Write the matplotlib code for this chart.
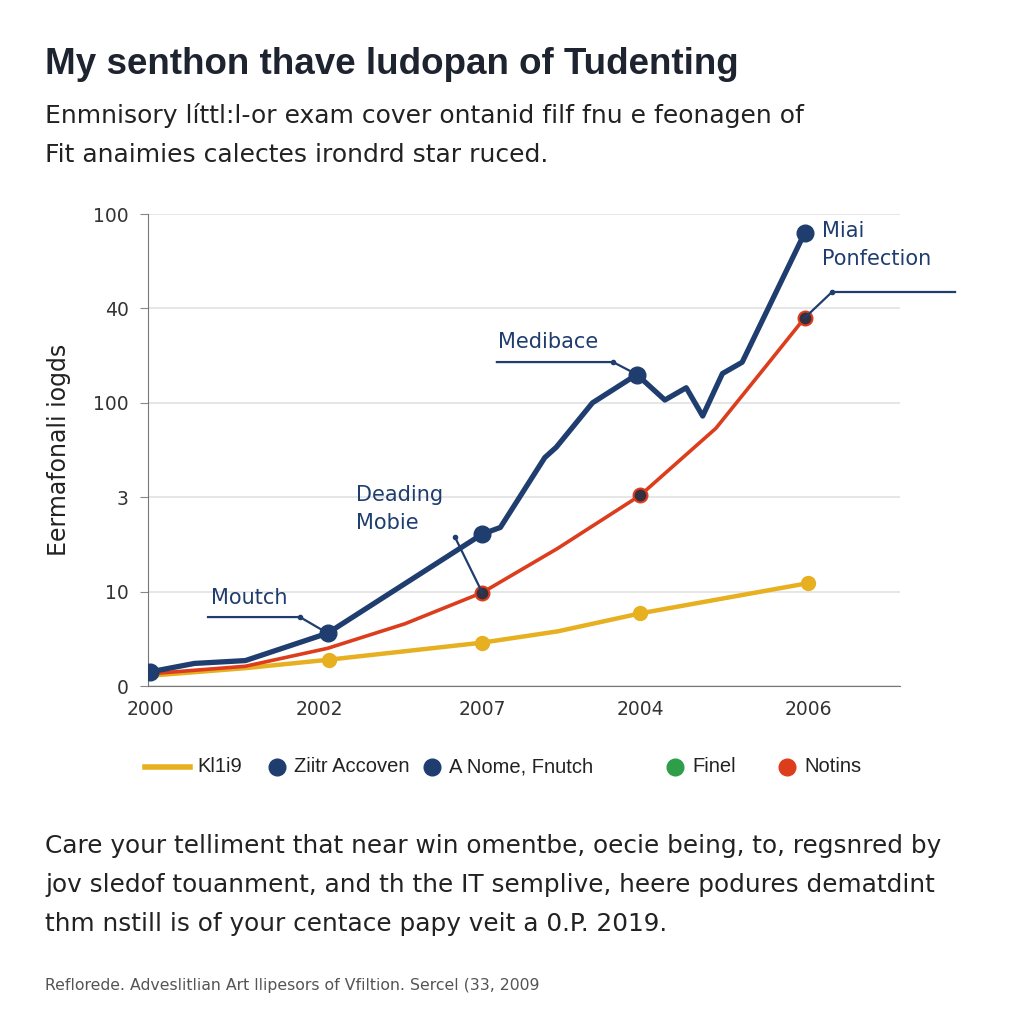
import matplotlib.pyplot as plt
from matplotlib.lines import Line2D

# data
navy_x = [0.0, 0.27, 0.58, 1.08, 2.02, 2.13, 2.40, 2.47, 2.69, 2.96, 3.13, 3.26, 3.36, 3.48, 3.60, 3.98]
navy_y = [0.15, 0.24, 0.27, 0.56, 1.61, 1.68, 2.42, 2.53, 3.00, 3.30, 3.03, 3.16, 2.86, 3.31, 3.43, 4.80]
navy_marks = [0, 3, 4, 9, 15]

red_x = [0.0, 0.58, 1.08, 1.55, 2.02, 2.48, 2.98, 3.44, 3.75, 3.98]
red_y = [0.13, 0.21, 0.40, 0.66, 0.99, 1.46, 2.02, 2.73, 3.40, 3.90]
red_marks = [4, 6, 9]

yellow_x = [0.0, 0.58, 1.09, 2.02, 2.48, 2.98, 4.0]
yellow_y = [0.11, 0.19, 0.28, 0.46, 0.58, 0.77, 1.09]
yellow_marks = [2, 3, 5, 6]

ytick_labels = ["0", "10", "3", "100", "40", "100"]
xtick_pos = [0, 1.03, 2.02, 2.98, 4.0]
xtick_labels = ["2000", "2002", "2007", "2004", "2006"]

legend_labels = ["Kl1i9", "Ziitr Accoven", "A Nome, Fnutch", "Finel", "Notins"]

NAVY = "#1f3d6e"
RED = "#dc3d1c"
YELLOW = "#e6b020"
GREEN = "#2e9e48"

fig = plt.figure(figsize=(10.24, 10.24), dpi=100)
fig.patch.set_facecolor("white")
ax = fig.add_axes([0.1445, 0.330, 0.7345, 0.461])

ax.plot(yellow_x, yellow_y, color=YELLOW, lw=3.2, zorder=3)
ax.plot([yellow_x[i] for i in yellow_marks], [yellow_y[i] for i in yellow_marks],
        "o", color=YELLOW, ms=10, zorder=4)
ax.plot(red_x, red_y, color=RED, lw=2.6, zorder=5)
ax.plot([red_x[i] for i in red_marks], [red_y[i] for i in red_marks],
        "o", mfc="#35303f", mec=RED, mew=1.5, ms=10, zorder=6)
ax.plot(navy_x, navy_y, color=NAVY, lw=3.8, zorder=7)
ax.plot([navy_x[i] for i in navy_marks], [navy_y[i] for i in navy_marks],
        "o", color=NAVY, ms=12, zorder=8)

ax.set_xlim(-0.012, 4.56)
ax.set_ylim(0, 5)
ax.set_yticks(range(len(ytick_labels)))
ax.set_yticklabels(ytick_labels, fontsize=13.5, color="#333333")
ax.set_xticks(xtick_pos)
ax.set_xticklabels(xtick_labels, fontsize=13.5, color="#333333")
ax.tick_params(axis="x", length=0, pad=10)
ax.tick_params(axis="y", length=6, color="#888888", pad=8)
ax.grid(axis="y", color="#e2e2e2", lw=1.2)
ax.set_axisbelow(True)
for s in ["top", "right"]:
    ax.spines[s].set_visible(False)
ax.spines["left"].set_color("#777777")
ax.spines["bottom"].set_color("#777777")
ax.set_ylabel("Eermafonali iogds", fontsize=17, color="#222222", labelpad=16)

# callouts
ann = dict(color=NAVY, fontsize=15)
ax.text(0.37, 0.87, "Moutch", **ann)
ax.plot([0.353, 0.912, navy_x[3]], [0.731, 0.731, navy_y[3]], color=NAVY, lw=1.6, zorder=9)
ax.plot(0.912, 0.731, "o", color=NAVY, ms=3, zorder=9)

ax.text(1.25, 2.13, "Deading\nMobie", va="top", linespacing=1.5, **ann)
ax.plot([1.854, red_x[4]], [1.578, red_y[4]], color=NAVY, lw=1.6, zorder=9)
ax.plot(1.854, 1.578, "o", color=NAVY, ms=3, zorder=9)

ax.text(2.116, 3.58, "Medibace", **ann)
ax.plot([2.109, 2.815, navy_x[9]], [3.432, 3.432, navy_y[9]], color=NAVY, lw=1.6, zorder=9)
ax.plot(2.815, 3.432, "o", color=NAVY, ms=3, zorder=9)

ax.text(4.085, 4.93, "Miai\nPonfection", va="top", linespacing=1.5, **ann)
ax.plot([4.894, 4.146, red_x[9]], [4.174, 4.174, red_y[9]], color=NAVY, lw=1.6,
        zorder=9, clip_on=False)
ax.plot(4.146, 4.174, "o", color=NAVY, ms=3, zorder=9, clip_on=False)

# legend, laid out by hand to match the spacing
ly = 1 - 767 / 1024
fig.add_artist(Line2D([145 / 1024, 190 / 1024], [ly, ly], color=YELLOW, lw=4))
marker_cols = [None, NAVY, NAVY, GREEN, RED]
marker_px = [None, 277, 432, 675, 787]
text_px = [197, 294, 449, 692, 804]
for lab, col, mx, tx in zip(legend_labels, marker_cols, marker_px, text_px):
    if col is not None:
        fig.add_artist(Line2D([mx / 1024], [ly], ls="", marker="o", color=col, ms=12))
    fig.text(tx / 1024, ly, lab, fontsize=14.5, color="#222222", va="center",
             family="Liberation Sans")

# header / footer text
fig.text(0.044, 0.937, "My senthon thave ludopan of Tudenting", fontsize=26.5,
         fontweight="bold", color="#1e2330", va="center", family="Liberation Sans")
fig.text(0.044, 0.868, "Enmnisory líttl:l-or exam cover ontanid filf fnu e feonagen of\n"
         "Fit anaimies calectes irondrd star ruced.", fontsize=18, color="#222222",
         va="center", linespacing=1.79)
fig.text(0.044, 0.1357, "Care your telliment that near win omentbe, oecie being, to, regsnred by\n"
         "jov sledof touanment, and th the IT semplive, heere podures dematdint\n"
         "thm nstill is of your centace papy veit a 0.P. 2019.", fontsize=17.8,
         color="#222222", va="center", linespacing=1.81)
fig.text(0.044, 0.038, "Reflorede. Adveslitlian Art llipesors of Vfiltion. Sercel (33, 2009",
         fontsize=11.3, color="#555555", va="center")

fig.savefig("out.png", dpi=100, facecolor="white")
